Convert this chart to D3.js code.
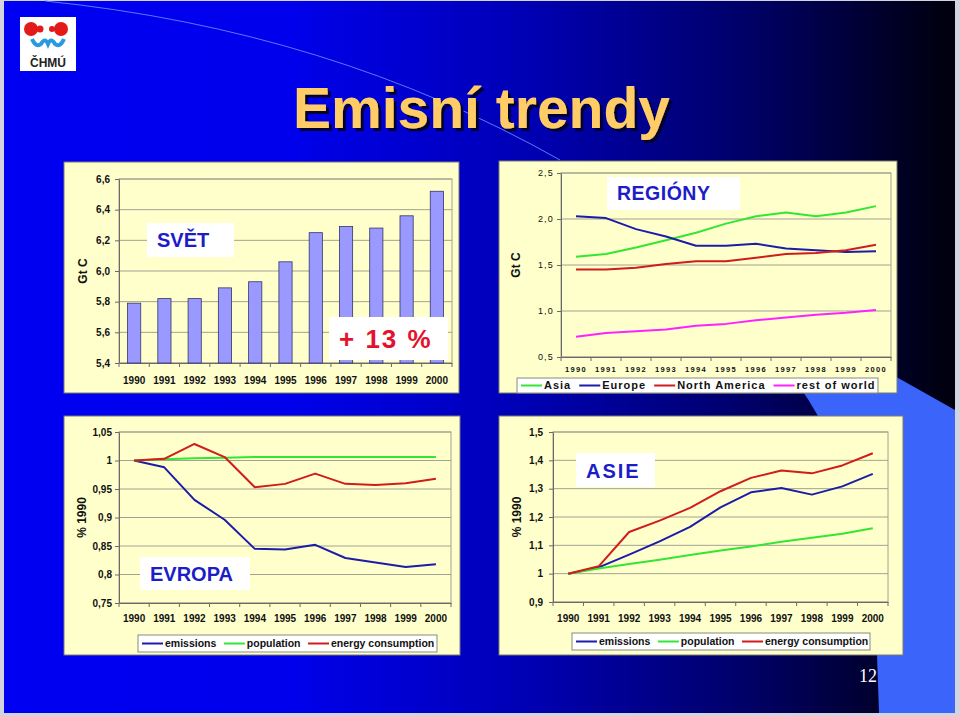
<!DOCTYPE html>
<html>
<head>
<meta charset="utf-8">
<script src="https://cdn.jsdelivr.net/npm/d3@7"></script>
<style>
  html, body { margin: 0; padding: 0; background: #d4d4e0; }
  svg { display: block; font-family: "Liberation Sans", Arial, sans-serif; }
</style>
</head>
<body>
<svg id="slide" width="960" height="716"></svg>
<script>
// ---- data ----
const YEARS = ['1990', '1991', '1992', '1993', '1994', '1995', '1996', '1997', '1998', '1999', '2000'];

// SVĚT – world emissions, Gt C
const WORLD = [5.79, 5.82, 5.82, 5.89, 5.93, 6.06, 6.25, 6.29, 6.28, 6.36, 6.52];
const WORLD_TICKS = [5.4, 5.6, 5.8, 6.0, 6.2, 6.4, 6.6];

// REGIÓNY – Gt C
const ASIA      = [1.59, 1.62, 1.69, 1.77, 1.85, 1.95, 2.03, 2.07, 2.03, 2.07, 2.14];
const EUROPE    = [2.03, 2.01, 1.89, 1.81, 1.71, 1.71, 1.73, 1.68, 1.66, 1.64, 1.65];
const N_AMERICA = [1.45, 1.45, 1.47, 1.51, 1.54, 1.54, 1.58, 1.62, 1.63, 1.66, 1.72];
const REST      = [0.72, 0.76, 0.78, 0.80, 0.84, 0.86, 0.90, 0.93, 0.96, 0.98, 1.01];
const REGION_TICKS = [0.5, 1.0, 1.5, 2.0, 2.5];

// EVROPA – index, 1990 = 1
const EU_EMIS   = [1.0, 0.988, 0.931, 0.896, 0.845, 0.844, 0.852, 0.829, 0.821, 0.813, 0.818];
const EU_POP    = [1.0, 1.002, 1.004, 1.005, 1.006, 1.006, 1.006, 1.006, 1.006, 1.006, 1.006];
const EU_ENERGY = [1.0, 1.003, 1.029, 1.006, 0.953, 0.959, 0.977, 0.959, 0.957, 0.960, 0.968];
const EU_TICKS  = [0.75, 0.8, 0.85, 0.9, 0.95, 1, 1.05];

// ASIE – index, 1990 = 1
const AS_EMIS   = [1.0, 1.022, 1.067, 1.114, 1.165, 1.234, 1.287, 1.302, 1.279, 1.308, 1.352];
const AS_POP    = [1.0, 1.018, 1.034, 1.049, 1.066, 1.082, 1.096, 1.113, 1.127, 1.141, 1.160];
const AS_ENERGY = [1.0, 1.026, 1.147, 1.187, 1.232, 1.291, 1.338, 1.364, 1.354, 1.382, 1.425];
const AS_TICKS  = [0.9, 1, 1.1, 1.2, 1.3, 1.4, 1.5];

const C = {
  green: '#33e633', blue: '#1c1ca8', red: '#d01c1c', magenta: '#ff22ff',
  cream: '#ffffcc', grid: '#a2a292', axis: '#6a6a6a', label: '#1c1cc8'
};

const fmt1 = d => d3.format('.1f')(d).replace('.', ',');
const fmtTrim = d => String(+d.toFixed(2)).replace('.', ',');

const svg = d3.select('#slide');

// ---- background ----
const defs = svg.append('defs');
const bg = defs.append('linearGradient').attr('id', 'bg').attr('x1', 0).attr('x2', 1).attr('y1', 0).attr('y2', 0);
[[0, '#0000f2'], [0.3, '#0000ec'], [0.55, '#0000b4'], [0.78, '#000068'], [1, '#00000c']]
  .forEach(([o, c]) => bg.append('stop').attr('offset', o).attr('stop-color', c));
defs.append('filter').attr('id', 'shadow').attr('x', '-5%').attr('y', '-20%').attr('width', '115%').attr('height', '150%')
  .append('feDropShadow').attr('dx', 3).attr('dy', 3).attr('stdDeviation', 0.4)
  .attr('flood-color', '#000030').attr('flood-opacity', 1);

svg.append('rect').attr('x', 4).attr('y', 1).attr('width', 951).attr('height', 712).attr('fill', 'url(#bg)');
svg.append('path')
  .attr('d', 'M787,370 L884,370 L955,410 L955,713 L879,713 L877,655 Q868,470 787,370 Z')
  .attr('fill', '#3a64fa');
svg.append('path')
  .attr('d', 'M45,1 Q330,30 560,160')
  .attr('fill', 'none').attr('stroke', '#5a78ff').attr('stroke-width', 1);

// ---- logo ----
const logo = svg.append('g');
logo.append('rect').attr('x', 20).attr('y', 17).attr('width', 56).attr('height', 54).attr('fill', '#fff');
[[31, 29, 7], [40, 29, 3.5], [52, 29, 3], [61, 29, 7]].forEach(([cx, cy, r]) =>
  logo.append('circle').attr('cx', cx).attr('cy', cy).attr('r', r).attr('fill', '#e21a1a'));
logo.append('path')
  .attr('d', 'M32,39 Q36,48 41,44 Q45,37 48,44 Q51,37 55,44 Q60,48 64,39')
  .attr('fill', 'none').attr('stroke', '#2a9ae0').attr('stroke-width', 4);
logo.append('text').attr('x', 48).attr('y', 67).attr('text-anchor', 'middle')
  .attr('font-size', 12).attr('font-weight', 'bold').attr('fill', '#222').text('ČHMÚ');

// ---- title ----
svg.append('text').attr('x', 293).attr('y', 128)
  .attr('font-size', 57).attr('font-weight', 'bold')
  .attr('fill', '#ffcc66').attr('filter', 'url(#shadow)').text('Emisní trendy');

// ---- helpers ----
function panel(x, y, w, h) {
  svg.append('rect').attr('x', x).attr('y', y).attr('width', w).attr('height', h)
    .attr('fill', C.cream).attr('stroke', '#7a7a70').attr('stroke-width', 1);
}

function frame(p) {
  const x = d3.scaleBand().domain(YEARS).range([p.left, p.right]);
  const y = d3.scaleLinear().domain(p.domain).range([p.bottom, p.top]);
  const g = svg.append('g');

  g.append('g').selectAll('line').data(p.ticks).join('line')
    .attr('x1', p.left).attr('x2', p.right)
    .attr('y1', d => y(d)).attr('y2', d => y(d))
    .attr('stroke', C.grid).attr('stroke-width', 1);
  g.append('rect').attr('x', p.left).attr('y', p.top)
    .attr('width', p.right - p.left).attr('height', p.bottom - p.top)
    .attr('fill', 'none').attr('stroke', C.grid);

  const ya = g.append('g').attr('transform', `translate(${p.left},0)`)
    .call(d3.axisLeft(y).tickValues(p.ticks).tickFormat(p.fmt).tickSize(4).tickSizeOuter(0).tickPadding(p.yPad));
  ya.selectAll('path, line').attr('stroke', C.axis);
  ya.selectAll('text').attr('font-size', p.yFont).attr('font-weight', p.yWeight || 'bold')
    .attr('letter-spacing', p.yLetter || 0).attr('fill', '#111').attr('font-family', null);

  const xa = g.append('g').attr('transform', `translate(0,${p.bottom})`)
    .call(d3.axisBottom(x).tickSize(0).tickPadding(p.xPad));
  xa.select('path').attr('stroke', C.axis);
  xa.selectAll('text').attr('font-size', p.xFont).attr('font-weight', 'bold')
    .attr('letter-spacing', p.xLetter || 0).attr('fill', '#111').attr('font-family', null);
  g.append('g').selectAll('line').data([...YEARS.map(d => x(d)), p.right]).join('line')
    .attr('x1', d => d).attr('x2', d => d).attr('y1', p.bottom).attr('y2', p.bottom + 4)
    .attr('stroke', C.axis);

  g.append('text')
    .attr('transform', `translate(${p.titleX},${(p.top + p.bottom) / 2}) rotate(-90)`)
    .attr('text-anchor', 'middle').attr('font-size', 12).attr('font-weight', 'bold')
    .attr('fill', '#111').text(p.yTitle);
  return { x, y, g };
}

function lines(f, series) {
  const line = d3.line().x((d, i) => f.x(YEARS[i]) + f.x.bandwidth() / 2).y(d => f.y(d));
  f.g.append('g').selectAll('path').data(series).join('path')
    .attr('d', s => line(s.values)).attr('fill', 'none')
    .attr('stroke', s => s.color).attr('stroke-width', 2).attr('stroke-linejoin', 'round');
}

function labelBox(x, y, w, h, text, opts) {
  svg.append('rect').attr('x', x).attr('y', y).attr('width', w).attr('height', h).attr('fill', '#fff');
  svg.append('text').attr('x', opts.tx).attr('y', opts.ty)
    .attr('font-size', opts.size).attr('font-weight', 'bold')
    .attr('letter-spacing', opts.spacing || 0).attr('fill', opts.color).text(text);
}

function legend(x, y, w, h, series, font, spacing, gap) {
  const g = svg.append('g');
  g.append('rect').attr('x', x).attr('y', y).attr('width', w).attr('height', h)
    .attr('fill', '#fff').attr('stroke', '#8a8a80');
  let cx = x + 4;
  series.forEach(s => {
    g.append('line').attr('x1', cx).attr('x2', cx + 21).attr('y1', y + h / 2).attr('y2', y + h / 2)
      .attr('stroke', s.color).attr('stroke-width', 2);
    const t = g.append('text').attr('x', cx + 23).attr('y', y + h / 2 + font * 0.36)
      .attr('font-size', font).attr('font-weight', 'bold').attr('letter-spacing', spacing)
      .attr('fill', '#111').text(s.name);
    cx += 23 + t.node().getComputedTextLength() + gap;
  });
}

// ---- SVĚT ----
panel(64, 162, 395, 231);
const fw = frame({
  left: 119, right: 452, top: 179, bottom: 363, domain: [5.4, 6.6], ticks: WORLD_TICKS,
  fmt: fmt1, yPad: 5, yFont: 10, xFont: 10, xPad: 13.5, titleX: 87, yTitle: 'Gt C'
});
fw.g.append('g').selectAll('rect').data(WORLD).join('rect')
  .attr('x', (d, i) => fw.x(YEARS[i]) + fw.x.bandwidth() / 2 - 6.6)
  .attr('width', 13.2)
  .attr('y', d => fw.y(d))
  .attr('height', d => fw.y(5.4) - fw.y(d))
  .attr('fill', '#9999ff').attr('stroke', '#34346a').attr('stroke-width', 0.8);
labelBox(147, 223, 87, 34, 'SVĚT', { tx: 157, ty: 247, size: 20, color: C.label });
labelBox(329, 317, 119, 43, '+ 13 %', { tx: 339, ty: 348, size: 26, spacing: 2, color: '#e4122c' });

// ---- REGIÓNY ----
panel(499, 161, 398, 232);
const fr = frame({
  left: 561, right: 891, top: 173, bottom: 357, domain: [0.5, 2.5], ticks: REGION_TICKS,
  fmt: fmt1, yPad: 3, yFont: 9, yWeight: 'normal', yLetter: 1.2, xFont: 7.5, xLetter: 1.3, xPad: 9.5,
  titleX: 520, yTitle: 'Gt C'
});
const REGIONS = [
  { name: 'Asia', values: ASIA, color: C.green },
  { name: 'Europe', values: EUROPE, color: C.blue },
  { name: 'North America', values: N_AMERICA, color: C.red },
  { name: 'rest of world', values: REST, color: C.magenta }
];
lines(fr, REGIONS);
labelBox(607, 177, 133, 33, 'REGIÓNY', { tx: 617, ty: 200, size: 19.5, spacing: 0.5, color: C.label });
legend(517, 378, 361, 15, REGIONS, 11, 1, 8);

// ---- EVROPA ----
panel(64, 416, 396, 239);
const fe = frame({
  left: 119, right: 451, top: 432, bottom: 603, domain: [0.75, 1.05], ticks: EU_TICKS,
  fmt: fmtTrim, yPad: 3, yFont: 10, xFont: 10, xPad: 11.5, titleX: 86, yTitle: '% 1990'
});
const EU = [
  { name: 'emissions', values: EU_EMIS, color: C.blue },
  { name: 'population', values: EU_POP, color: C.green },
  { name: 'energy consumption', values: EU_ENERGY, color: C.red }
];
lines(fe, EU);
labelBox(140, 557, 110, 33, 'EVROPA', { tx: 150, ty: 581, size: 20, color: C.label });
legend(138, 635, 299, 17, EU, 10.5, 0, 7.5);

// ---- ASIE ----
panel(499, 416, 404, 239);
const fa = frame({
  left: 553, right: 888, top: 432, bottom: 602, domain: [0.9, 1.5], ticks: AS_TICKS,
  fmt: fmtTrim, yPad: 6, yFont: 10, xFont: 10, xPad: 12.5, titleX: 521, yTitle: '% 1990'
});
const AS = [
  { name: 'emissions', values: AS_EMIS, color: C.blue },
  { name: 'population', values: AS_POP, color: C.green },
  { name: 'energy consumption', values: AS_ENERGY, color: C.red }
];
lines(fa, AS);
labelBox(576, 453, 79, 34, 'ASIE', { tx: 586, ty: 478, size: 20, spacing: 2, color: C.label });
legend(572, 633, 298, 17, AS, 10.5, 0, 7.5);

// ---- page number ----
svg.append('text').attr('x', 877).attr('y', 682).attr('text-anchor', 'end')
  .attr('font-family', '"Liberation Serif", "Times New Roman", serif')
  .attr('font-size', 18).attr('fill', '#fff').text('12');
</script>
</body>
</html>
